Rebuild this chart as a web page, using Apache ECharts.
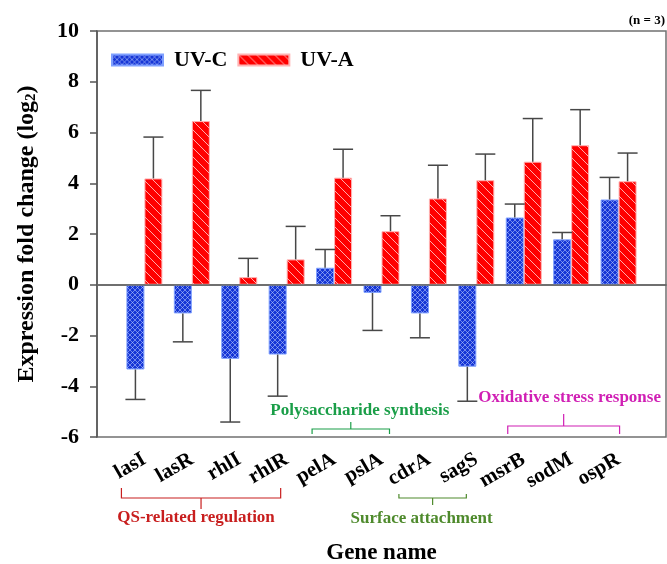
<!DOCTYPE html>
<html><head><meta charset="utf-8">
<script src="https://cdn.jsdelivr.net/npm/echarts@6/dist/echarts.min.js"></script>
<style>html,body{margin:0;padding:0;background:#fff}#c{width:667px;height:564px}</style>
</head><body><div id="c"></div>
<script>
// ---------- data ----------
const genes = ['lasI','lasR','rhlI','rhlR','pelA','pslA','cdrA','sagS','msrB','sodM','ospR'];
const uvC    = [-3.34,-1.13,-2.92,-2.75,0.67,-0.32,-1.13,-3.23,2.65,1.79,3.36];
const uvCErr = [1.18,1.12,2.49,1.64,0.72,1.48,0.96,1.36,0.53,0.27,0.87];
const uvA    = [4.19,6.45,0.30,1.00,4.22,2.11,3.40,4.12,4.85,5.50,4.08];
const uvAErr = [1.63,1.21,0.74,1.30,1.12,0.61,1.31,1.03,1.70,1.40,1.11];
const yMin = -6, yMax = 10, yStep = 2;
const groupLabels = ['QS-related regulation','Polysaccharide synthesis','Surface attachment','Oxidative stress response'];
const groupFirst  = ['lasI','pelA','cdrA','msrB'];
const groupLast   = ['rhlR','pslA','sagS','ospR'];
const seriesNames = ['UV-C','UV-A'];
const noteText = '(n = 3)';

// ---------- styles ----------
const FONT = "'Times New Roman','Liberation Serif',serif";
const groupStyles = [
  {color:'#c81e1e', side:'below', dx:[-23,-6], ends:51, bar:61, notch:72, textY:81, tdx:-5},
  {color:'#1a9e48', side:'above', dx:[-22,8], ends:3, bar:8, notch:15, textY:26, tdx:9},
  {color:'#4e8a2c', side:'below', dx:[-30,-10], ends:57, bar:61, notch:68, textY:82, tdx:-11},
  {color:'#d01fb4', side:'above', dx:[-16,1], ends:3, bar:11, notch:23, textY:39, tdx:6}
];
function makePattern(kind){
  const c = document.createElement('canvas');
  if (kind === 'blue'){
    c.width = 5; c.height = 5;
    const g = c.getContext('2d');
    g.fillStyle = '#1636d6'; g.fillRect(0,0,5,5);
    g.strokeStyle = 'rgba(190,205,255,0.55)'; g.lineWidth = 1;
    g.beginPath(); g.moveTo(-1,-1); g.lineTo(6,6); g.moveTo(6,-1); g.lineTo(-1,6); g.stroke();
  } else {
    c.width = 9; c.height = 9;
    const g = c.getContext('2d');
    g.fillStyle = '#ff0000'; g.fillRect(0,0,9,9);
    g.strokeStyle = 'rgba(255,200,200,0.85)'; g.lineWidth = 1;
    g.beginPath(); g.moveTo(-1,-1); g.lineTo(10,10);
    g.moveTo(8,-1); g.lineTo(10,1); g.moveTo(-1,8); g.lineTo(1,10); g.stroke();
  }
  return {image:c, repeat:'repeat'};
}
const BAR_W = 18;

const cats = [''].concat(genes, ['']);
const padded = arr => [null].concat(arr, [null]);
const errData = (vals, errs) => vals.map((v,i)=>[i+1, v, errs[i]]);

function errRender(offset){
  return function(params, api){
    const i = api.value(0), v = api.value(1), e = api.value(2);
    const end = v >= 0 ? v + e : v - e;
    const p0 = api.coord([i, v]), p1 = api.coord([i, end]);
    const x = p0[0] + offset;
    const st = {stroke:'#474747', lineWidth:1.5};
    return {type:'group', children:[
      {type:'line', shape:{x1:x,y1:p0[1],x2:x,y2:p1[1]}, style:st},
      {type:'line', shape:{x1:x-10,y1:p1[1],x2:x+10,y2:p1[1]}, style:st}
    ]};
  };
}

const chart = echarts.init(document.getElementById('c'), null, {renderer:'canvas'});
chart.setOption({
  animation:false,
  backgroundColor:'#fff',
  grid:{left:97, right:1, top:31, bottom:127, outerBoundsMode:'none', containLabel:false,
        show:true, borderColor:'#707070', borderWidth:1.5},
  legend:{
    data:seriesNames, left:106, top:44, itemWidth:51, itemHeight:11, itemGap:10, icon:'rect',
    textStyle:{fontFamily:FONT, fontWeight:'bold', fontSize:22, color:'#000', padding:[0,0,0,6]}
  },
  xAxis:{
    type:'category', data:cats, boundaryGap:false,
    axisLine:{lineStyle:{color:'#555', width:1.5}},
    axisTick:{show:false},
    axisLabel:{interval:0, rotate:30, margin:21, fontFamily:FONT, fontWeight:'bold', fontSize:21, color:'#000'},
    name:'Gene name', nameLocation:'middle', nameGap:105,
    nameTextStyle:{fontFamily:FONT, fontWeight:'bold', fontSize:23, color:'#000'}
  },
  yAxis:{
    type:'value', min:yMin, max:yMax, interval:yStep,
    splitLine:{show:false},
    axisLine:{show:true, lineStyle:{color:'#555', width:1.5}},
    axisTick:{show:true, inside:false, length:7, lineStyle:{color:'#555', width:1.5}},
    axisLabel:{margin:18, fontFamily:FONT, fontWeight:'bold', fontSize:22, color:'#000'},
    name:'Expression fold change (log{sub|2})', nameLocation:'middle', nameGap:58, nameRotate:90,
    nameTextStyle:{fontFamily:FONT, fontWeight:'bold', fontSize:24, color:'#000',
      rich:{sub:{fontFamily:FONT, fontWeight:'bold', fontSize:15, color:'#000', padding:[10,0,0,0]}}}
  },
  series:[
    {name:seriesNames[0], type:'bar', data:padded(uvC), barWidth:BAR_W, barGap:'0%',
     itemStyle:{color:makePattern('blue'), borderColor:'#7fa0ff', borderWidth:1},
     markLine:{silent:true, symbol:'none', label:{show:false},
       lineStyle:{color:'#6a6a6a', width:1.5, type:'solid'}, data:[{yAxis:0}]}},
    {name:seriesNames[1], type:'bar', data:padded(uvA), barWidth:BAR_W, barGap:'0%',
     itemStyle:{color:makePattern('red'), borderColor:'#ffb3b3', borderWidth:1}},
    {type:'custom', renderItem:errRender(-BAR_W/2), data:errData(uvC, uvCErr), encode:{x:0,y:1}, z:5, silent:true},
    {type:'custom', renderItem:errRender(BAR_W/2), data:errData(uvA, uvAErr), encode:{x:0,y:1}, z:5, silent:true}
  ]
});

// ---------- annotations ----------
const bottom = chart.convertToPixel({yAxisIndex:0}, yMin);
const xOf = g => chart.convertToPixel({xAxisIndex:0}, genes.indexOf(g) + 1);
const graphics = [];
groupLabels.forEach((lab, k)=>{
  const s = groupStyles[k];
  const x0 = xOf(groupFirst[k]) + s.dx[0], x1 = xOf(groupLast[k]) + s.dx[1];
  const xm = (x0 + x1) / 2;
  const sign = s.side === 'below' ? 1 : -1;
  const yE = bottom + sign*s.ends, yB = bottom + sign*s.bar, yN = bottom + sign*s.notch;
  graphics.push({type:'polyline', silent:true,
    shape:{points:[[x0,yE],[x0,yB],[x1,yB],[x1,yE]]}, style:{stroke:s.color, lineWidth:1.2, fill:null}});
  graphics.push({type:'line', silent:true,
    shape:{x1:xm,y1:yB,x2:xm,y2:yN}, style:{stroke:s.color, lineWidth:1.2}});
  graphics.push({type:'text', silent:true, x:xm + s.tdx, y:bottom + sign*s.textY,
    style:{text:lab, fill:s.color, font:"bold 17px "+FONT, align:'center', verticalAlign:'middle'}});
});
graphics.push({type:'text', silent:true, x:665, y:21,
  style:{text:noteText, fill:'#000', font:"bold 13px "+FONT, align:'right', verticalAlign:'middle'}});
chart.setOption({graphic:graphics});
</script>
</body></html>
